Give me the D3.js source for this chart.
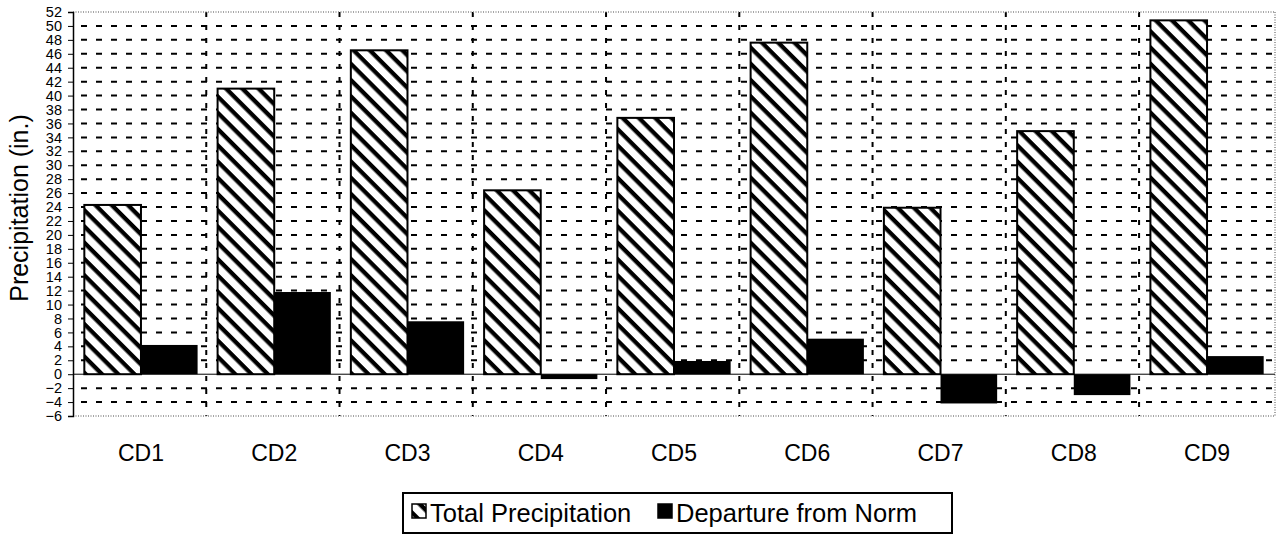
<!DOCTYPE html>
<html>
<head>
<meta charset="utf-8">
<script src="https://cdn.jsdelivr.net/npm/d3@7"></script>
<style>
  body { margin: 0; background: #fff; }
  svg { display: block; font-family: "Liberation Sans", Arial, sans-serif; }
</style>
</head>
<body>
<div id="chart"></div>
<script>
// Chart data
const categories = ['CD1', 'CD2', 'CD3', 'CD4', 'CD5', 'CD6', 'CD7', 'CD8', 'CD9'];
const totalPrecip = [24.3, 41.0, 46.5, 26.4, 36.8, 47.6, 23.9, 34.9, 50.8];
const departure = [4.2, 11.8, 7.6, -0.7, 1.9, 5.1, -4.2, -3.0, 2.6];
const seriesNames = ['Total Precipitation', 'Departure from Norm'];
const yTicks = d3.range(-6, 53, 2);

const width = 1279;
const height = 538;
const margin = { top: 12, right: 4, bottom: 122, left: 73 };
const innerWidth = width - margin.left - margin.right;
const innerHeight = height - margin.top - margin.bottom;

const svg = d3.select('#chart')
    .append('svg')
    .attr('width', width)
    .attr('height', height);

// hatch pattern for total precipitation
const defs = svg.append('defs');
const hatch = defs.append('pattern')
    .attr('id', 'hatch')
    .attr('patternUnits', 'userSpaceOnUse')
    .attr('width', 11.5)
    .attr('height', 11.5)
    .attr('patternTransform', 'rotate(45)');
hatch.append('rect').attr('width', 11.5).attr('height', 11.5).attr('fill', '#fff');
hatch.append('rect').attr('y', 0).attr('width', 11.5).attr('height', 4.3).attr('fill', '#000');

const g = svg.append('g')
    .attr('transform', `translate(${margin.left},${margin.top})`);

// scales
const x0 = d3.scaleBand()
    .domain(categories)
    .range([0, innerWidth])
    .paddingInner(0.15)
    .paddingOuter(0.085);

const x1 = d3.scaleBand()
    .domain(seriesNames)
    .range([0, x0.bandwidth()]);

const y = d3.scaleLinear()
    .domain([-6, 52])
    .range([innerHeight, 0]);

// horizontal dashed gridlines
g.append('g')
    .selectAll('line')
    .data(yTicks.filter(d => d > -6 && d < 52 && d !== 0))
    .enter()
    .append('line')
    .attr('x1', 0)
    .attr('x2', innerWidth)
    .attr('y1', d => y(d))
    .attr('y2', d => y(d))
    .attr('stroke', '#000')
    .attr('stroke-width', 2)
    .attr('stroke-dasharray', '6,9')
    .attr('stroke-dashoffset', -8);

// vertical dashed gridlines at category boundaries
const step = x0.step();
g.append('g')
    .selectAll('line')
    .data(d3.range(1, categories.length))
    .enter()
    .append('line')
    .attr('x1', i => i * step)
    .attr('x2', i => i * step)
    .attr('y1', 0)
    .attr('y2', innerHeight)
    .attr('stroke', '#000')
    .attr('stroke-width', 2)
    .attr('stroke-dasharray', '5,8');

// plot border (top, right, bottom) dotted grey
const border = [
    [0, 0, innerWidth, 0],
    [innerWidth, 0, innerWidth, innerHeight],
    [0, innerHeight, innerWidth, innerHeight]
];
g.append('g')
    .selectAll('line')
    .data(border)
    .enter()
    .append('line')
    .attr('x1', d => d[0]).attr('y1', d => d[1])
    .attr('x2', d => d[2]).attr('y2', d => d[3])
    .attr('stroke', '#888')
    .attr('stroke-width', 1.5)
    .attr('stroke-dasharray', '1,1.5');

// zero line
g.append('line')
    .attr('x1', 0)
    .attr('x2', innerWidth)
    .attr('y1', y(0))
    .attr('y2', y(0))
    .attr('stroke', '#000')
    .attr('stroke-width', 1);

// bars
const groups = g.selectAll('.grp')
    .data(categories)
    .enter()
    .append('g')
    .attr('class', 'grp')
    .attr('transform', d => `translate(${x0(d)},0)`);

groups.append('rect')
    .attr('x', x1(seriesNames[0]))
    .attr('y', (d, i) => y(totalPrecip[i]))
    .attr('width', x1.bandwidth())
    .attr('height', (d, i) => y(0) - y(totalPrecip[i]))
    .attr('fill', 'url(#hatch)')
    .attr('stroke', '#000')
    .attr('stroke-width', 2);

groups.append('rect')
    .attr('x', x1(seriesNames[1]))
    .attr('y', (d, i) => y(Math.max(0, departure[i])))
    .attr('width', x1.bandwidth())
    .attr('height', (d, i) => Math.abs(y(0) - y(departure[i])))
    .attr('fill', '#000');

// y axis
const yAxis = d3.axisLeft(y)
    .tickValues(yTicks)
    .tickSize(5)
    .tickPadding(6);
const yAxisG = g.append('g').call(yAxis);
yAxisG.select('.domain').attr('stroke', '#000').attr('stroke-width', 1.5);
yAxisG.selectAll('.tick line').attr('stroke', '#000');
yAxisG.selectAll('.tick text')
    .attr('font-size', 14.5)
    .attr('fill', '#000')
    .style('font-family', '"Liberation Sans", Arial, sans-serif');

// category labels
g.append('g')
    .selectAll('text')
    .data(categories)
    .enter()
    .append('text')
    .attr('x', d => x0(d) + x0.bandwidth() / 2)
    .attr('y', innerHeight + 45)
    .attr('text-anchor', 'middle')
    .attr('font-size', 23)
    .text(d => d);

// y axis title
svg.append('text')
    .attr('transform', 'rotate(-90)')
    .attr('x', -208)
    .attr('y', 28)
    .attr('text-anchor', 'middle')
    .attr('font-size', 25)
    .text('Precipitation (in.)');

// legend
const legend = svg.append('g');
legend.append('rect')
    .attr('x', 403)
    .attr('y', 493)
    .attr('width', 549)
    .attr('height', 40)
    .attr('fill', '#fff')
    .attr('stroke', '#000')
    .attr('stroke-width', 2);

const legendItems = [
    { name: seriesNames[0], x: 412, fill: 'url(#hatch)' },
    { name: seriesNames[1], x: 658, fill: '#000' }
];
legendItems.forEach(item => {
    legend.append('rect')
        .attr('x', item.x)
        .attr('y', 504)
        .attr('width', 14)
        .attr('height', 14)
        .attr('fill', item.fill)
        .attr('stroke', '#000')
        .attr('stroke-width', 1.5);
    legend.append('text')
        .attr('x', item.x + 18)
        .attr('y', 522)
        .attr('font-size', 25.5)
        .text(item.name);
});
</script>
</body>
</html>
